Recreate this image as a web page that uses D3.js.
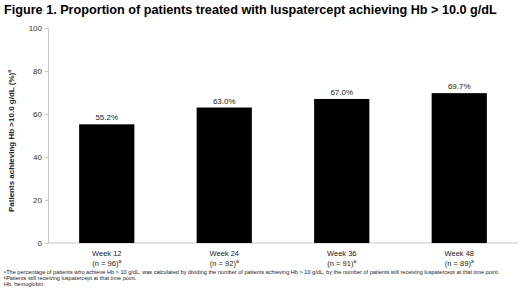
<!DOCTYPE html>
<html>
<head>
<meta charset="utf-8">
<script src="https://cdn.jsdelivr.net/npm/d3@7"></script>
<style>
  body { margin: 0; background: #fff; }
  text { font-family: "Liberation Sans", Arial, sans-serif; }
</style>
</head>
<body>
<div id="chart"></div>
<script>
// Chart data
const weeks = ["Week 12", "Week 24", "Week 36", "Week 48"];
const counts = ["96", "92", "91", "89"];
const percents = [55.2, 63.0, 67.0, 69.7];
const yTicks = [0, 20, 40, 60, 80, 100];

const W = 520, H = 293;
const margin = { top: 28, right: 2, bottom: 50, left: 48 };
const width = W - margin.left - margin.right;
const height = H - margin.top - margin.bottom;

const root = d3.select("#chart")
    .append("svg")
    .attr("width", W)
    .attr("height", H);

// Title
root.append("text")
    .attr("x", 4)
    .attr("y", 14)
    .style("font-size", "12.65px")
    .style("font-weight", "bold")
    .text("Figure 1. Proportion of patients treated with luspatercept achieving Hb > 10.0 g/dL");

const svg = root.append("g")
    .attr("transform", "translate(" + margin.left + "," + margin.top + ")");

const x = d3.scaleBand()
    .domain(weeks)
    .range([0, width])
    .paddingInner(0.53)
    .paddingOuter(0.265);

const y = d3.scaleLinear()
    .domain([0, 100])
    .range([height, 0]);

// Y axis
const yAxis = svg.append("g")
    .call(d3.axisLeft(y).tickValues(yTicks).tickSize(3).tickPadding(3));
yAxis.select(".domain").attr("stroke", "#c8c8c8");
yAxis.selectAll(".tick line").attr("stroke", "#c8c8c8");
yAxis.selectAll(".tick text")
    .style("font-size", "8px")
    .style("fill", "#333");

// X axis line
svg.append("line")
    .attr("x1", 0)
    .attr("x2", width)
    .attr("y1", height)
    .attr("y2", height)
    .attr("stroke", "#c8c8c8");

// Bars
svg.selectAll(".bar")
    .data(weeks)
    .enter()
    .append("rect")
    .attr("class", "bar")
    .attr("x", d => x(d))
    .attr("width", x.bandwidth())
    .attr("y", (d, i) => y(percents[i]))
    .attr("height", (d, i) => height - y(percents[i]))
    .style("fill", "#000");

// Value labels
svg.selectAll(".label")
    .data(weeks)
    .enter()
    .append("text")
    .attr("class", "label")
    .attr("x", d => x(d) + x.bandwidth() / 2)
    .attr("y", (d, i) => y(percents[i]) - 4)
    .attr("text-anchor", "middle")
    .style("font-size", "8px")
    .style("fill", "#222")
    .text((d, i) => percents[i].toFixed(1) + "%");

// Category labels
const cat = svg.selectAll(".cat")
    .data(weeks)
    .enter()
    .append("text")
    .attr("class", "cat")
    .attr("text-anchor", "middle")
    .style("font-size", "7.5px")
    .style("fill", "#222");
cat.append("tspan")
    .attr("x", d => x(d) + x.bandwidth() / 2)
    .attr("y", height + 13)
    .text(d => d);
cat.append("tspan")
    .attr("x", d => x(d) + x.bandwidth() / 2)
    .attr("y", height + 23)
    .text((d, i) => "(n = " + counts[i] + ")");
cat.append("tspan")
    .attr("dy", -3)
    .style("font-size", "5px")
    .text("a");

// Y axis title
root.append("text")
    .attr("transform", "translate(14,141) rotate(-90)")
    .attr("text-anchor", "middle")
    .style("font-size", "8px")
    .style("font-weight", "bold")
    .style("fill", "#222")
    .call(t => {
        t.append("tspan").text("Patients achieving Hb >10.0 g/dL (%)");
        t.append("tspan").attr("dy", -3).style("font-size", "5px").text("a");
    });

// Footnotes
const notes = [
    ["a", "The percentage of patients who achieve Hb > 10 g/dL, was calculated by dividing the number of patients achieving Hb > 10 g/dL, by the number of patients still receiving luspatercept at that time point."],
    ["b", "Patients still receiving luspatercept at that time point."],
    ["", "Hb, hemoglobin."]
];
notes.forEach((nt, i) => {
    const t = root.append("text")
        .attr("x", 4)
        .attr("y", 274 + i * 6)
        .style("font-size", "5.6px")
        .style("fill", "#222");
    if (nt[0]) {
        t.append("tspan").attr("dy", -1.5).style("font-size", "3.8px").text(nt[0]);
        t.append("tspan").attr("dy", 1.5).text(nt[1]);
    } else {
        t.text(nt[1]);
    }
});
</script>
</body>
</html>
